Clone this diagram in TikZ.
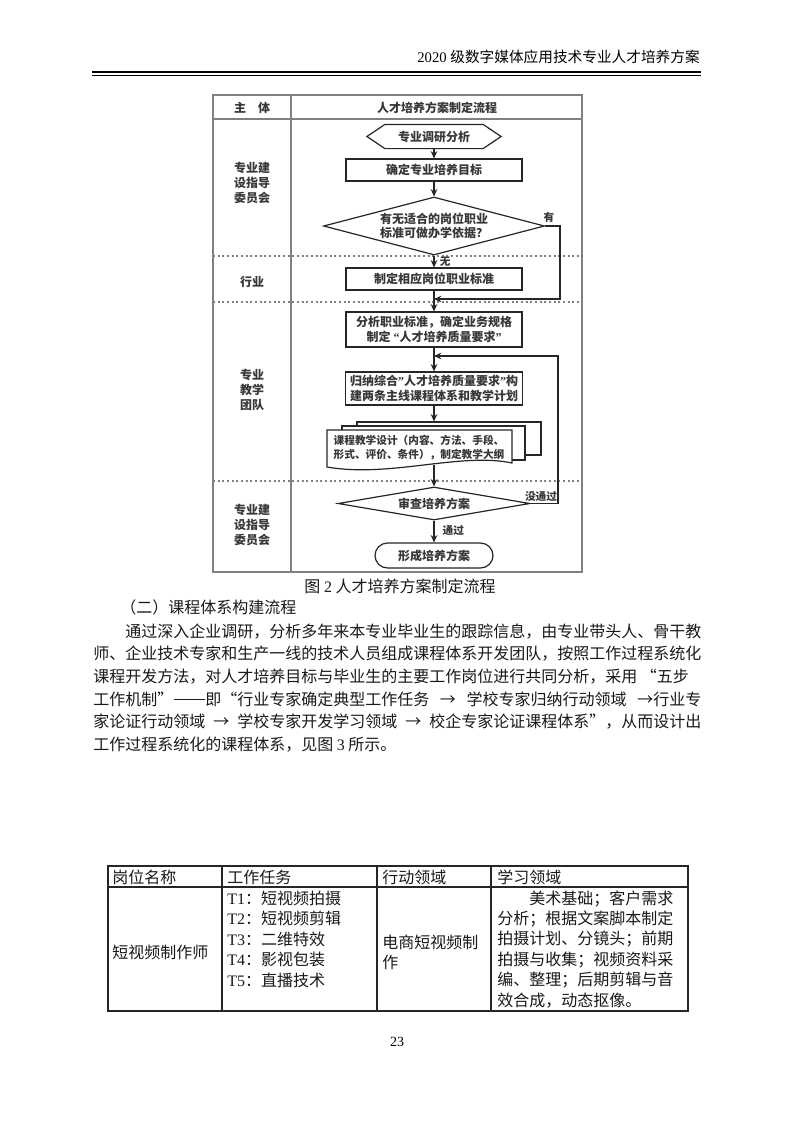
\documentclass[tikz,border=0pt]{standalone}
\usepackage{fontspec}
\setmainfont{Liberation Serif}
\newfontfamily\cjk{Noto Sans CJK SC}
\usetikzlibrary{arrows.meta,shapes.geometric,shapes.misc}
\newcommand{\nq}[1]{{\rmfamily #1}}
\newcommand{\cjkdash}{\makebox[2em]{\rule[0.33em]{1.95em}{0.055em}}}
\begin{document}
\begin{tikzpicture}[x=0.75pt,y=-0.75pt,
  every node/.style={font=\cjk, inner sep=0pt},
  fcol/.style={text=black!78},
  proc/.style={draw=black!85, line width=0.9pt, fill=white, fcol, font=\cjk\bfseries\fontsize{9}{11}\selectfont, align=center},
  arr/.style={-{Stealth[length=5.5pt,width=5pt]}, line width=0.9pt, draw=black!85},
  frame/.style={draw=black!50, line width=0.9pt},
  sepline/.style={draw=black!50, line width=0.8pt, dash pattern=on 1.5pt off 2pt},
  lab/.style={font=\cjk\bfseries\fontsize{9}{11.25}\selectfont, fcol, align=center},
  small/.style={font=\cjk\bfseries\fontsize{8}{9}\selectfont, fcol},
  body/.style={font=\cjk\fontsize{12}{14}\selectfont, anchor=base west, text=black!90},
  tbl/.style={draw=black!85, line width=0.9pt},
]
\useasboundingbox (0,0) rectangle (793,1122);
\fill[white] (0,0) rectangle (793,1122);

% page header
\node[anchor=base east, font=\cjk\fontsize{11}{12}\selectfont] (hdr) at (700,62) {{\rmfamily 2020 }级数字媒体应用技术专业人才培养方案};
\draw[line width=1.95pt] (92,72) -- (701,72);
\draw[line width=0.6pt] (92,75.5) -- (701,75.5);

% flowchart frame
\draw[frame] (213,95) rectangle (582,572);
\draw[frame] (291,95) -- (291,572);
\draw[frame] (213,119) -- (582,119);
\draw[sepline] (213,256) -- (582,256);
\draw[sepline] (213,302) -- (582,302);
\draw[sepline] (213,481) -- (582,481);

\node[lab] (hA) at (252,107.5) {主\quad 体};
\node[lab] (hB) at (437,107.5) {人才培养方案制定流程};
\node[lab] (s1) at (252,182.5) {专业建\\设指导\\委员会};
\node[lab] (s2) at (252,282) {行业};
\node[lab] (s3) at (252,390) {专业\\教学\\团队};
\node[lab] (s4) at (252,525) {专业建\\设指导\\委员会};

% nodes
\node[proc, draw=none, fill=none, minimum width=99.75pt, minimum height=17.25pt] (hex) at (434,136.5) {专业调研分析};
\draw[black!85, line width=0.9pt] (hex.west) -- ([xshift=13.5pt]hex.north west) -- ([xshift=-13.5pt]hex.north east) -- (hex.east) -- ([xshift=-13.5pt]hex.south east) -- ([xshift=13.5pt]hex.south west) -- cycle;
\node[proc, minimum width=132pt, minimum height=16.5pt] (r1) at (434,170) {确定专业培养目标};
\node[proc, diamond, aspect=3.8, minimum width=165.75pt, minimum height=43.5pt] (d1) at (434,226) {有无适合的岗位职业\\标准可做办学依据？};
\node[proc, minimum width=132pt, minimum height=16.5pt] (r2) at (434,279) {制定相应岗位职业标准};
\node[proc, minimum width=132pt, minimum height=26.25pt] (r3) at (434,329.5) {分析职业标准，确定业务规格\\制定\nq{ “}人才培养质量要求\nq{”}};
\node[proc, minimum width=132.75pt, minimum height=24.75pt] (r4) at (434,388.5) {归纳综合\nq{"}人才培养质量要求\nq{"}构\\建两条主线课程体系和教学计划};

% multi document
\node[draw=black!85, line width=0.9pt, fill=white, minimum width=138pt, minimum height=24.75pt] (docB) at (449,438.5) {};
\node[draw=black!85, line width=0.9pt, fill=white, minimum width=137.25pt, minimum height=25.5pt] (docM) at (433.5,443) {};
\draw[black!85, line width=0.9pt, fill=white] (327,430) -- (512,430) -- (512,463) .. controls (460,452) and (390,478) .. (327,467) -- cycle;
\node[fcol, font=\cjk\bfseries\fontsize{8}{10.5}\selectfont, align=left] (docF) at (419,447.5) {课程教学设计（内容、方法、手段、\\形式、评价、条件），制定教学大纲};
\coordinate (docBot) at (434,464.5);

\node[proc, diamond, aspect=5.8, minimum width=144pt, minimum height=24.75pt] (d2) at (434,503.5) {审查培养方案};
\node[proc, rounded rectangle, minimum width=88.5pt, minimum height=18.75pt] (t) at (434,555.5) {形成培养方案};

% connectors
\draw[arr] (hex.south) -- (r1.north);
\draw[arr] (r1.south) -- (d1.north);
\draw[arr] (d1.south) -- node[pos=0.5, right=4pt, small] (lno) {无} (r2.north);
\coordinate (yesA) at (560,226);
\coordinate (yesB) at (560,299);
\coordinate (yesT) at (434,299);
\draw[arr] (d1.east) -- (yesA) -- (yesB) -- (yesT);
\node[small] (lyes) at (549,217) {有};
\draw[arr] (r2.south) -- (r3.north);
\draw[arr] (r3.south) -- (r4.north);
\draw[arr] (r4.south) -- (r4.south |- docB.north);
\draw[arr] (docBot) -- (d2.north);
\coordinate (noA) at (558,503.5);
\coordinate (noB) at (558,356);
\coordinate (noT) at (434,356);
\draw[arr] (d2.east) -- (noA) -- (noB) -- (noT);
\node[small] (lnot) at (541,496) {没通过};
\draw[arr] (d2.south) -- node[pos=0.45, right=6pt, small] (lpass) {通过} (t.north);

% caption and text
\node[font=\cjk\fontsize{12}{14}\selectfont, anchor=base, text=black!90] (cap) at (400,592) {图 {\rmfamily 2} 人才培养方案制定流程};
\node[body] (sec) at (120,613) {（二）课程体系构建流程};
\node[body] (p1) at (125,637) {通过深入企业调研，分析多年来本专业毕业生的跟踪信息，由专业带头人、骨干教};
\node[body] (p2) at (93,659) {师、企业技术专家和生产一线的技术人员组成课程体系开发团队，按照工作过程系统化};
\node[body] (p3) at (93,682) {课程开发方法，对人才培养目标与毕业生的主要工作岗位进行共同分析，采用 “五步};
\node[body] (p4) at (93,705) {\makebox[456pt][s]{工作机制”\cjkdash 即“行业专家确定典型工作任务 → 学校专家归纳行动领域 →行业专}};
\node[body] (p5) at (93,727) {\makebox[456pt][s]{家论证行动领域 → 学校专家开发学习领域 → 校企专家论证课程体系”，从而设计出}};
\node[body] (p6) at (93,750) {工作过程系统化的课程体系，见图 {\rmfamily 3} 所示。};

% table
\draw[tbl] (108,866) rectangle (688,1011);
\draw[tbl] (108,887) -- (688,887);
\draw[tbl] (222,866) -- (222,1011);
\draw[tbl] (377,866) -- (377,1011);
\draw[tbl] (491,866) -- (491,1011);
\node[body] (th1) at (112,883) {岗位名称};
\node[body] (th2) at (227,883) {工作任务};
\node[body] (th3) at (382,883) {行动领域};
\node[body] (th4) at (497,883) {学习领域};
\node[body] (c1) at (112,958) {短视频制作师};
\node[body] (t1) at (227,904) {{\rmfamily T1}：短视频拍摄};
\node[body] (t2) at (227,924.5) {{\rmfamily T2}：短视频剪辑};
\node[body] (t3) at (227,945) {{\rmfamily T3}：二维特效};
\node[body] (t4) at (227,965.5) {{\rmfamily T4}：影视包装};
\node[body] (t5) at (227,986) {{\rmfamily T5}：直播技术};
\node[body] (c3a) at (382,948) {电商短视频制};
\node[body] (c3b) at (382,968) {作};
\node[body] (l1) at (497,904) {　　美术基础；客户需求};
\node[body] (l2) at (497,924.4) {分析；根据文案脚本制定};
\node[body] (l3) at (497,944.8) {拍摄计划、分镜头；前期};
\node[body] (l4) at (497,965.2) {拍摄与收集；视频资料采};
\node[body] (l5) at (497,985.6) {编、整理；后期剪辑与音};
\node[body] (l6) at (497,1006) {效合成，动态抠像。};

\node[font=\fontsize{10.5}{12}\selectfont] (pg) at (397,1042) {23};
\end{tikzpicture}
\end{document}
